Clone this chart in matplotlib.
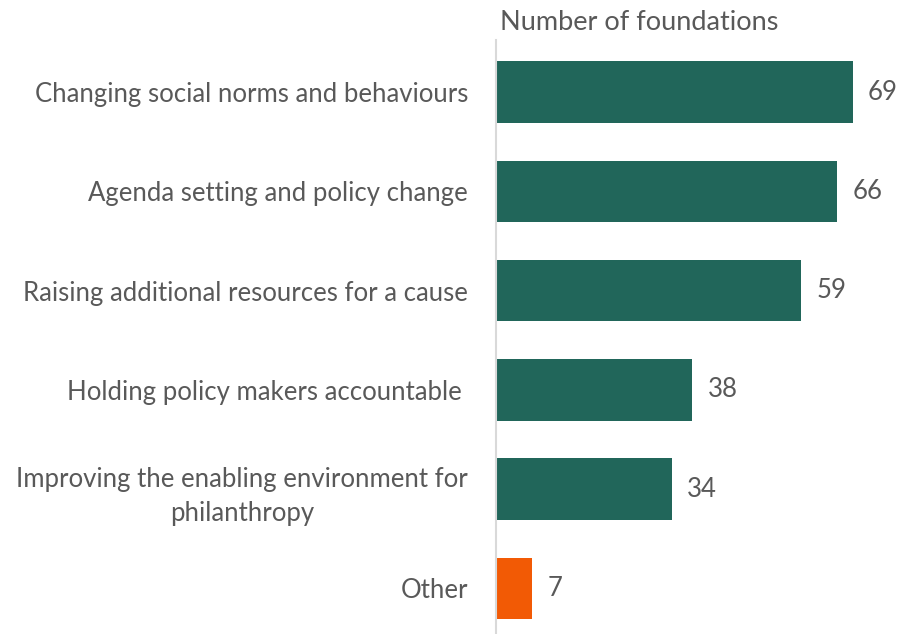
import matplotlib.pyplot as plt

categories = [
    "Changing social norms and behaviours",
    "Agenda setting and policy change",
    "Raising additional resources for a cause",
    "Holding policy makers accountable ",
    "Improving the enabling environment for\nphilanthropy",
    "Other",
]
values = [69, 66, 59, 38, 34, 7]
colors = ["#21665A"] * 5 + ["#F25A05"]

plt.rcParams["font.family"] = ["Lato", "DejaVu Sans"]
text_color = "#595959"

fig = plt.figure(figsize=(8.99, 6.34), dpi=100)
ax = fig.add_axes([496 / 899, 0, 403 / 899, 1 - 40 / 634])

pos = list(range(len(categories)))
ax.barh(pos, values, height=0.62, color=colors)
ax.set_xlim(0, 403 / 5.17)
ax.set_ylim(5.46, -0.525)

for y, v in zip(pos, values):
    ax.annotate(str(v), (v, y), xytext=(11, 0), textcoords="offset points",
                va="center", ha="left", fontsize=18.5, color=text_color)

ax.set_yticks(pos)
ax.set_yticklabels(categories, fontsize=18.5, color=text_color)
for lab in ax.get_yticklabels():
    lab.set_multialignment("center")
    lab.set_linespacing(1.45)
ax.tick_params(axis="y", length=0, pad=20)
ax.set_xticks([])

for s in ["top", "right", "bottom"]:
    ax.spines[s].set_visible(False)
ax.spines["left"].set_color("#D9D9D9")
ax.spines["left"].set_linewidth(1.5)

fig.text(500 / 899, 1 - 22 / 634, "Number of foundations", fontsize=19.5,
         color=text_color, ha="left", va="center")

fig.savefig("out.png", dpi=100)
